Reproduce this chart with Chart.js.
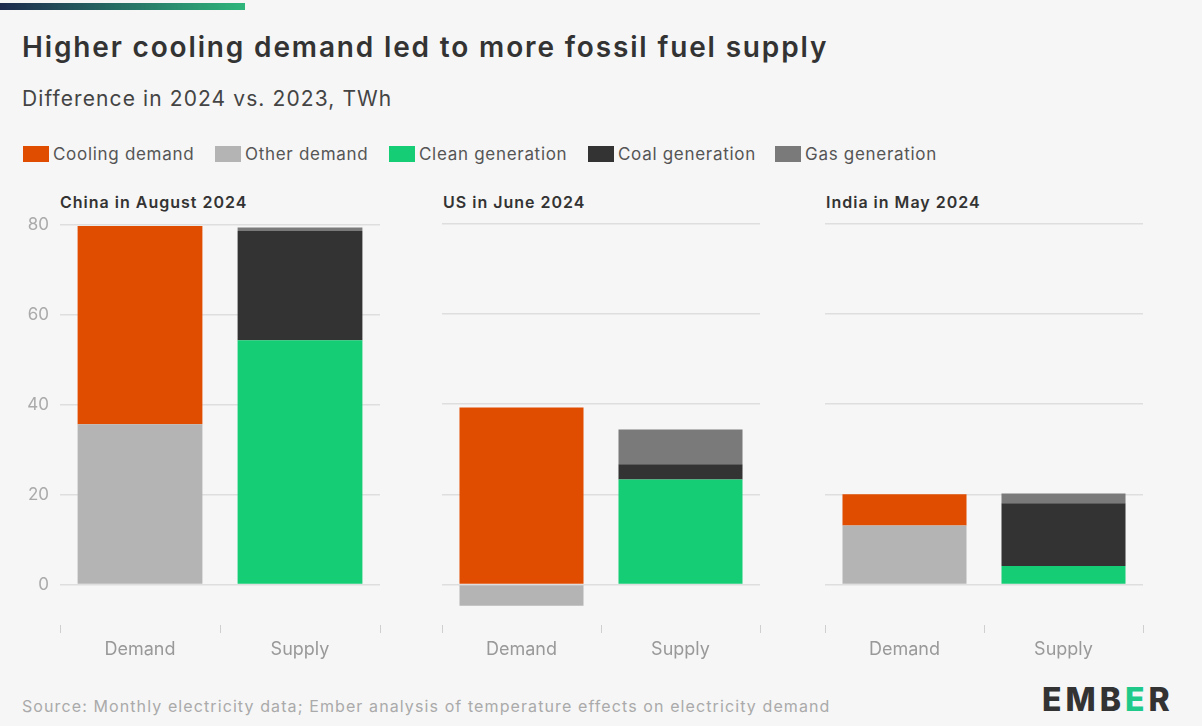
<!DOCTYPE html>
<html>
<head>
<meta charset="utf-8">
<script src="https://cdn.jsdelivr.net/npm/chart.js@4.4.1/dist/chart.umd.min.js"></script>
<style>
  body { margin: 0; background: #f6f6f6; font-family: Inter, "Noto Sans", sans-serif; }
  #page { position: relative; width: 1202px; height: 726px; overflow: hidden; background: #f6f6f6; }
  .topbar { position: absolute; left: 0; top: 3px; width: 245px; height: 7px; background: linear-gradient(90deg, #1d2a4d, #2fb67c); }
  h1 { position: absolute; left: 22px; top: 30px; margin: 0; font-size: 28px; font-weight: 600; color: #333; white-space: nowrap; letter-spacing: 1.85px; }
  .sub { position: absolute; left: 22px; top: 86px; font-size: 21px; color: #444; white-space: nowrap; letter-spacing: 1.1px; }
  .legend { position: absolute; left: 0; top: 146px; height: 16px; width: 1000px; }
  .legend .item { position: absolute; top: 0; height: 16px; font-size: 17px; line-height: 16px; color: #555; white-space: nowrap; letter-spacing: 0.7px; }
  .legend i { position: absolute; left: 0; top: 0; width: 26px; height: 16px; }
  .legend .item span { position: absolute; left: 30px; top: 0; }
  .ptitle { position: absolute; top: 192px; font-size: 16px; font-weight: 600; color: #333; white-space: nowrap; letter-spacing: 1px; }
  canvas { position: absolute; }
  .source { position: absolute; left: 22px; top: 696px; font-size: 16px; color: #aaa; white-space: nowrap; letter-spacing: 1.1px; }
  .logo { position: absolute; left: 1042px; top: 680px; font-size: 32px; font-weight: 800; color: #333; letter-spacing: 4px; }
  .logo b { color: #1fc98a; font-weight: 800; }
</style>
</head>
<body>
<div id="page">
  <div class="topbar"></div>
  <h1>Higher cooling demand led to more fossil fuel supply</h1>
  <div class="sub">Difference in 2024 vs. 2023, TWh</div>
  <div class="legend" id="legend"></div>
  <div class="ptitle" style="left:60px">China in August 2024</div>
  <div class="ptitle" style="left:443px">US in June 2024</div>
  <div class="ptitle" style="left:826px">India in May 2024</div>
  <canvas id="c0" width="400" height="471" style="left:0;top:204px"></canvas>
  <canvas id="c1" width="380" height="461" style="left:400px;top:214px"></canvas>
  <canvas id="c2" width="383" height="461" style="left:780px;top:214px"></canvas>
  <div class="source">Source: Monthly electricity data; Ember analysis of temperature effects on electricity demand</div>
  <div class="logo">EMB<b>E</b>R</div>
</div>
<script>
// data (TWh, 2024 vs 2023)
const categories = ['Demand', 'Supply'];
const panels = ['China in August 2024', 'US in June 2024', 'India in May 2024'];
const otherDemand = [35.7, -4.7, 13.1];
const coolingDemand = [44.1, 39.3, 6.9];
const cleanGen = [54.4, 23.3, 4.1];
const coalGen = [24.3, 3.4, 13.9];
const gasGen = [0.8, 7.7, 2.2];
const yTicks = [0, 20, 40, 60, 80];

const series = [
  { label: 'Other demand', values: otherDemand, side: 0, color: '#b4b4b4' },
  { label: 'Cooling demand', values: coolingDemand, side: 0, color: '#e04c00' },
  { label: 'Clean generation', values: cleanGen, side: 1, color: '#14cd74' },
  { label: 'Coal generation', values: coalGen, side: 1, color: '#333333' },
  { label: 'Gas generation', values: gasGen, side: 1, color: '#7a7a7a' }
];

// legend, in the original's order, with its x positions
const legendOrder = ['Cooling demand', 'Other demand', 'Clean generation', 'Coal generation', 'Gas generation'];
const legendX = [23, 215, 389, 588, 775];
const lg = document.getElementById('legend');
legendOrder.forEach((name, i) => {
  const s = series.find(x => x.label === name);
  const el = document.createElement('div');
  el.className = 'item';
  el.style.left = legendX[i] + 'px';
  el.innerHTML = '<i style="background:' + s.color + '"></i><span>' + name + '</span>';
  lg.appendChild(el);
});

function makeChart(id, p, yw, showY) {
  const datasets = series.map(s => ({
    label: s.label,
    data: categories.map((c, k) => k === s.side ? s.values[p] : null),
    backgroundColor: s.color,
    borderWidth: 0
  }));
  new Chart(document.getElementById(id), {
    type: 'bar',
    data: { labels: categories, datasets: datasets },
    options: {
      responsive: false,
      animation: false,
      layout: { padding: { top: 10, right: 20, left: 0, bottom: 0 } },
      plugins: { legend: { display: false }, tooltip: { enabled: false } },
      datasets: { bar: { barPercentage: 0.78, categoryPercentage: 1 } },
      scales: {
        x: {
          stacked: true,
          grid: { drawOnChartArea: false, tickLength: 8, color: '#cfcfcf' },
          border: { display: false },
          ticks: { color: '#999', font: { family: 'Inter', size: 18 }, padding: 6 },
          afterFit: s => { s.height = 50; }
        },
        y: {
          stacked: true,
          min: -9,
          max: 80,
          afterBuildTicks: a => { a.ticks = yTicks.map(v => ({ value: v })); },
          grid: { color: '#dedede', lineWidth: 1.5, drawTicks: false },
          border: { display: false },
          ticks: { display: showY, color: '#aaa', font: { family: 'Inter', size: 17 }, padding: 11 },
          afterFit: s => { s.width = yw; }
        }
      }
    }
  });
}

makeChart('c0', 0, 60, true);
makeChart('c1', 1, 42, false);
makeChart('c2', 2, 45, false);
</script>
</body>
</html>
